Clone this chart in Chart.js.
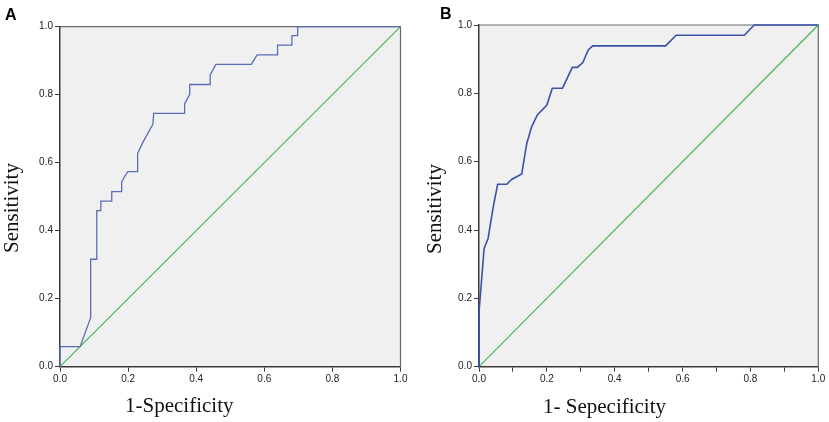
<!DOCTYPE html>
<html><head><meta charset="utf-8">
<script src="https://cdn.jsdelivr.net/npm/chart.js@4.4.1/dist/chart.umd.min.js"></script>
<style>
html,body{margin:0;padding:0;background:#fff;}
#wrap{position:relative;width:829px;height:422px;overflow:hidden;}
canvas{position:absolute;top:0;}
</style>
</head><body>
<div id="wrap">
<canvas id="cA" width="414" height="422" style="left:0px;width:414px;height:422px"></canvas>
<canvas id="cB" width="415" height="422" style="left:414px;width:415px;height:422px"></canvas>
</div>
<script>
// ---- data ----
const panelLetters = ['A', 'B'];
const yTitleText = 'Sensitivity';
const xTitleTexts = ['1-Specificity', '1- Sepecificity'];
const axisTickLabels = ['0.0', '0.2', '0.4', '0.6', '0.8', '1.0'];

const aFpr = [0, 0, 0.059, 0.09, 0.09, 0.108, 0.108, 0.12, 0.12, 0.152, 0.152, 0.181, 0.181, 0.199, 0.228, 0.228, 0.243, 0.273, 0.275, 0.366, 0.366, 0.381, 0.381, 0.441, 0.441, 0.458, 0.562, 0.579, 0.639, 0.639, 0.681, 0.681, 0.698, 0.698, 1.0];
const aTpr = [0, 0.059, 0.059, 0.144, 0.316, 0.316, 0.459, 0.459, 0.487, 0.487, 0.515, 0.515, 0.544, 0.574, 0.574, 0.627, 0.659, 0.714, 0.745, 0.745, 0.773, 0.801, 0.83, 0.83, 0.858, 0.889, 0.889, 0.917, 0.917, 0.946, 0.946, 0.974, 0.974, 1.0, 1.0];

const bFpr = [0, 0, 0.001, 0.006, 0.015, 0.027, 0.034, 0.042, 0.055, 0.082, 0.096, 0.126, 0.136, 0.141, 0.155, 0.172, 0.2, 0.216, 0.246, 0.275, 0.29, 0.306, 0.322, 0.335, 0.55, 0.581, 0.782, 0.811, 1.0];
const bTpr = [0, 0.16, 0.166, 0.234, 0.346, 0.376, 0.42, 0.468, 0.534, 0.534, 0.548, 0.564, 0.625, 0.654, 0.702, 0.737, 0.766, 0.815, 0.815, 0.876, 0.876, 0.89, 0.927, 0.939, 0.939, 0.97, 0.97, 1.0, 1.0];

const refX = [0, 1];
const refY = [0, 1];

// ---- helpers ----
function pts(xs, ys) { return xs.map((x, i) => ({ x: x, y: ys[i] })); }

const decor = {
  id: 'decor',
  beforeDraw(chart, args, o) {
    const { ctx, chartArea: a } = chart;
    ctx.save();
    ctx.fillStyle = '#f0f0f0';
    ctx.fillRect(a.left, a.top, a.right - a.left, a.bottom - a.top);
    ctx.restore();
  },
  beforeDatasetsDraw(chart, args, o) {
    const { ctx, chartArea: a } = chart;
    ctx.save();
    ctx.strokeStyle = o.frameColor;
    ctx.lineWidth = 1.2;
    ctx.beginPath();
    ctx.moveTo(a.left, a.top);
    ctx.lineTo(a.right, a.top);
    ctx.lineTo(a.right, a.bottom);
    ctx.stroke();
    ctx.restore();
  },
  afterDraw(chart, args, o) {
    const { ctx } = chart;
    ctx.save();
    ctx.fillStyle = '#000';
    ctx.font = 'bold 16px "Liberation Sans", Arial, sans-serif';
    ctx.textAlign = 'left';
    ctx.textBaseline = 'alphabetic';
    ctx.fillText(o.letter, o.letterX, o.letterY);

    ctx.font = '21px "Liberation Serif", "Times New Roman", serif';
    ctx.fillStyle = '#111';
    ctx.textAlign = 'left';
    ctx.fillText(o.xTitle, o.xTitleX, o.xTitleY);

    ctx.translate(o.yTitleX, o.yTitleY);
    ctx.rotate(-Math.PI / 2);
    ctx.textAlign = 'center';
    ctx.fillText(o.yTitle, 0, 0);
    ctx.restore();
  }
};

function makeChart(id, fpr, tpr, curveColor, curveWidth, xStep, yAxisWidth, pad, deco) {
  const axisCommon = {
    type: 'linear',
    min: 0,
    max: 1,
    border: { display: true, color: '#3a3a3a', width: 1.5 },
    grid: { drawOnChartArea: false, drawTicks: true, tickLength: 5, tickColor: '#3a3a3a', tickWidth: 1 },
  };
  return new Chart(document.getElementById(id), {
    type: 'scatter',
    data: {
      datasets: [
        {
          data: pts(refX, refY),
          showLine: true,
          borderColor: '#3fb54f',
          borderWidth: 1.1,
          pointRadius: 0,
          tension: 0,
          clip: 4,
          order: 2
        },
        {
          data: pts(fpr, tpr),
          showLine: true,
          borderColor: curveColor,
          borderWidth: curveWidth,
          pointRadius: 0,
          tension: 0,
          clip: 4,
          order: 1
        }
      ]
    },
    options: {
      responsive: false,
      animation: false,
      devicePixelRatio: 1,
      layout: { padding: pad },
      plugins: {
        legend: { display: false },
        tooltip: { enabled: false },
        decor: deco
      },
      scales: {
        x: Object.assign({}, axisCommon, {
          position: 'bottom',
          afterFit(s) { s.height = 55.3; },
          ticks: {
            stepSize: xStep,
            autoSkip: false,
            maxRotation: 0,
            padding: 2,
            color: '#222',
            font: { family: '"Liberation Sans", Arial, sans-serif', size: 10 },
            callback(v) {
              const k = Math.round(v * 10);
              return k % 2 === 0 ? axisTickLabels[k / 2] : '';
            }
          }
        }),
        y: Object.assign({}, axisCommon, {
          position: 'left',
          afterFit(s) { s.width = yAxisWidth; },
          ticks: {
            stepSize: 0.2,
            autoSkip: false,
            padding: 2,
            color: '#222',
            font: { family: '"Liberation Sans", Arial, sans-serif', size: 10 },
            callback(v) { return axisTickLabels[Math.round(v * 5)]; }
          }
        })
      }
    },
    plugins: [decor]
  });
}

makeChart('cA', aFpr, aTpr, '#5a6cb6', 1.3, 0.2, 60,
  { left: 0, right: 13.5, top: 26.7, bottom: 0 },
  { letter: panelLetters[0], letterX: 5, letterY: 20,
    xTitle: xTitleTexts[0], xTitleX: 125, xTitleY: 412,
    yTitle: yTitleText, yTitleX: 18, yTitleY: 208, frameColor: '#6a6a6a' });

makeChart('cB', bFpr, bTpr, '#3d50a8', 1.6, 0.1, 65,
  { left: 0, right: 10.7, top: 25, bottom: 0 },
  { letter: panelLetters[1], letterX: 26, letterY: 18.5,
    xTitle: xTitleTexts[1], xTitleX: 129, xTitleY: 413,
    yTitle: yTitleText, yTitleX: 27, yTitleY: 209, frameColor: '#6a6a6a' });
</script>
</body></html>
